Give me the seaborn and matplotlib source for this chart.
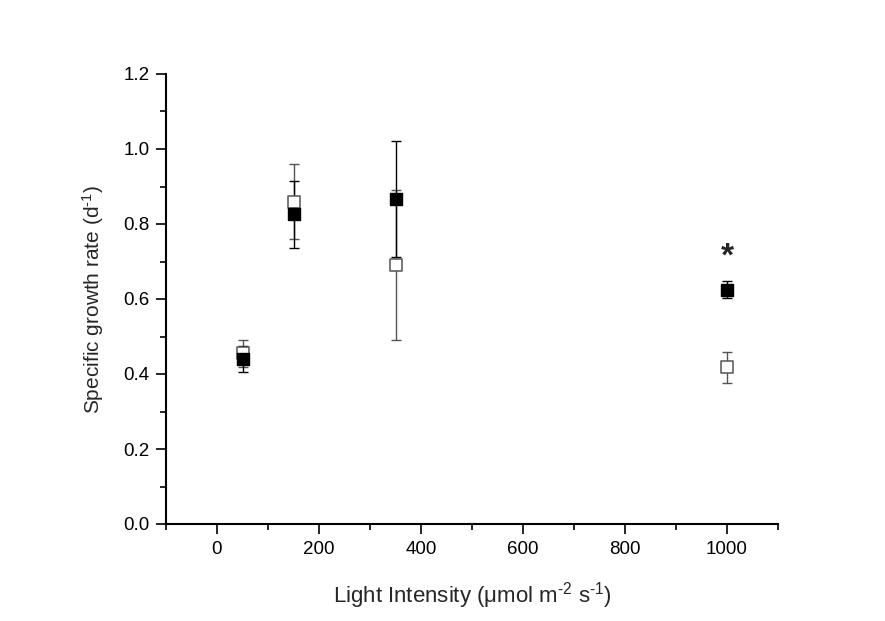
import numpy as np
import pandas as pd
import matplotlib
matplotlib.use("Agg")
import matplotlib.pyplot as plt
import seaborn as sns
from matplotlib.ticker import MultipleLocator

light = [50, 150, 350, 1000]
filled_mean = [0.44, 0.826, 0.866, 0.625]
filled_err = [0.035, 0.09, 0.155, 0.023]
open_mean = [0.455, 0.86, 0.69, 0.418]
open_err = [0.035, 0.10, 0.20, 0.042]
star_x = [1000]
star_y = [0.725]

sns.set_theme(style="ticks")
plt.rcParams['font.family'] = ['Liberation Sans', 'DejaVu Sans']
plt.rcParams['mathtext.fontset'] = 'custom'
plt.rcParams['mathtext.rm'] = 'Liberation Sans'
plt.rcParams['mathtext.it'] = 'Liberation Sans:italic'

fig = plt.figure(figsize=(8.85, 6.21), dpi=100)
ax = fig.add_axes([166/885, 1-524/621, (778-166)/885, (524-74)/621])

df_open = pd.DataFrame({"x": light, "y": open_mean})
df_filled = pd.DataFrame({"x": light, "y": filled_mean})

ax.errorbar(light, open_mean, yerr=open_err, fmt='none', ecolor='#555555',
            elinewidth=1, capsize=3.8, capthick=1, zorder=2)
ax.errorbar(light, filled_mean, yerr=filled_err, fmt='none', ecolor='black',
            elinewidth=1, capsize=3.8, capthick=1, zorder=2)
sns.scatterplot(data=df_open, x="x", y="y", marker='s', s=65, color='white',
                edgecolor='#555555', linewidth=1.1, ax=ax, zorder=3)
sns.scatterplot(data=df_filled, x="x", y="y", marker='s', s=65, color='black',
                edgecolor='black', linewidth=1, ax=ax, zorder=4)
for sx, sy in zip(star_x, star_y):
    ax.text(sx, sy - 0.012, '*', ha='center', va='center', fontsize=24, fontweight='bold')

ax.set_xlim(-100, 1100)
ax.set_ylim(0, 1.2)
ax.xaxis.set_major_locator(MultipleLocator(200))
ax.xaxis.set_minor_locator(MultipleLocator(100))
ax.yaxis.set_major_locator(MultipleLocator(0.2))
ax.yaxis.set_minor_locator(MultipleLocator(0.1))
ax.yaxis.set_major_formatter(matplotlib.ticker.FormatStrFormatter('%.1f'))
ax.tick_params(which='major', direction='out', length=7, width=1.2, labelsize=13.5,
               colors='black', pad=5)
ax.tick_params(which='minor', direction='out', length=4, width=1.2, colors='black')
for s in ['left', 'bottom']:
    ax.spines[s].set_linewidth(1.5)
    ax.spines[s].set_color('black')
sns.despine(ax=ax)

ax.set_xlabel('Light Intensity ($\\mathregular{\\mu}$mol m$^{\\mathregular{\u2010 2}}$ s$^{\\mathregular{\u2010 1}}$)',
              fontsize=16, labelpad=16)
ax.set_ylabel('Specific growth rate (d$^{\\mathregular{\u2010 1}}$)', fontsize=15, labelpad=12)

fig.savefig("out.png", dpi=100)
